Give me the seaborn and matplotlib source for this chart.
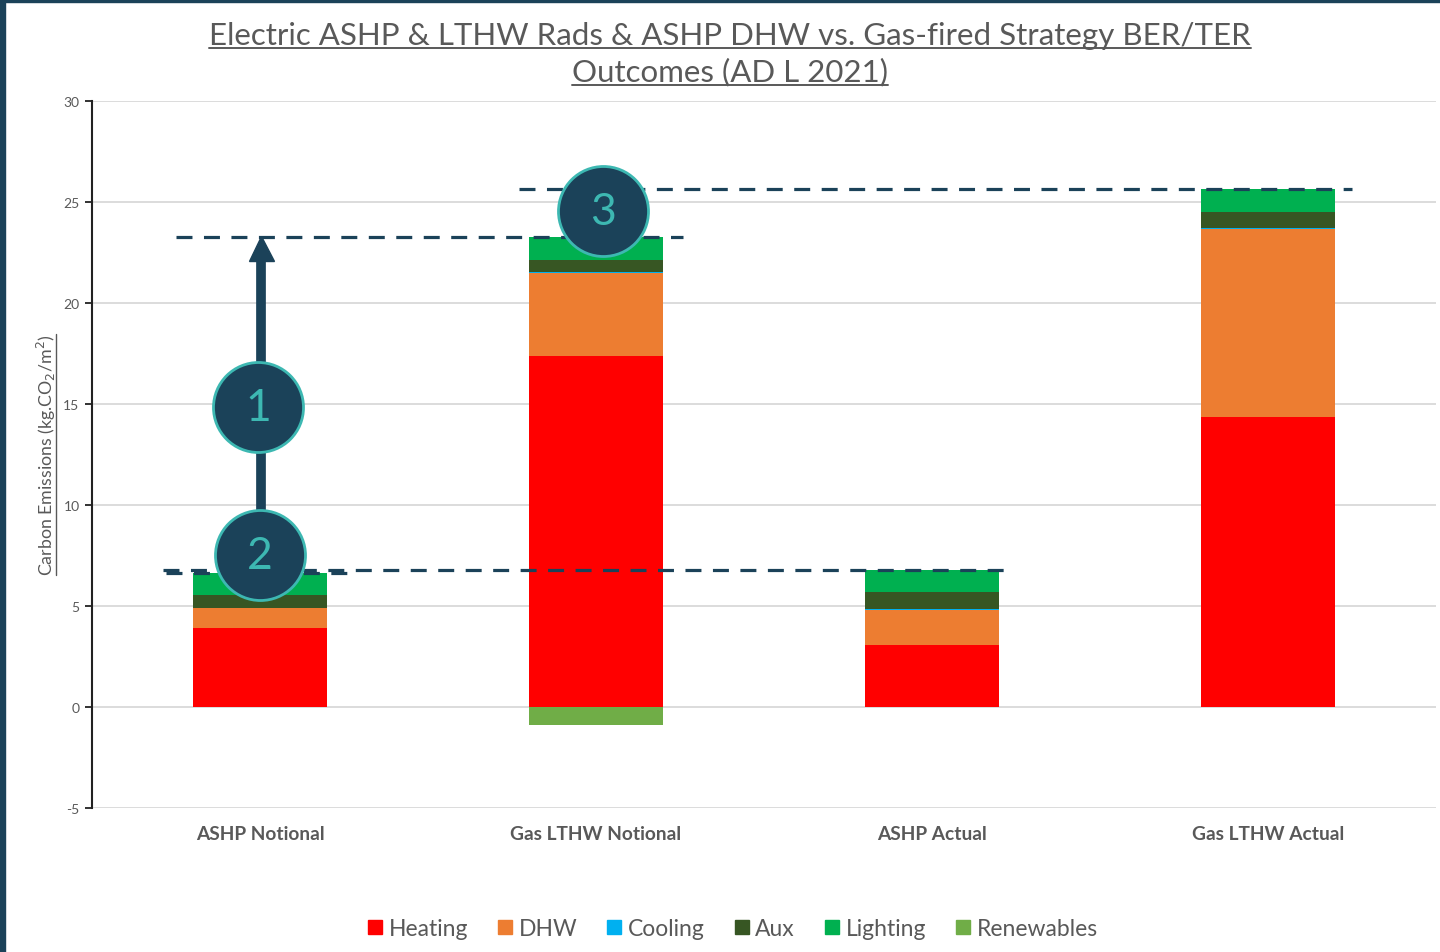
"""
Stacked BER/TER bars: ASHP vs gas-fired strategy (AD L 2021).
"""
import numpy as np
import pandas as pd
import matplotlib.pyplot as plt
import seaborn as sns
from matplotlib.lines import Line2D
from matplotlib.patches import Rectangle

# ------------------------------------------------------------
# data (kgCO2/m2)
# ------------------------------------------------------------
categories = ["ASHP Notional", "Gas LTHW Notional", "ASHP Actual", "Gas LTHW Actual"]
heating = [3.92, 17.38, 3.07, 14.36]
dhw = [0.98, 4.10, 1.75, 9.28]
cooling = [0.0, 0.04, 0.05, 0.08]
aux = [0.64, 0.62, 0.80, 0.80]
lighting = [1.08, 1.14, 1.12, 1.10]
renewables = [0.0, -0.88, 0.0, 0.0]

components = ["Heating", "DHW", "Cooling", "Aux", "Lighting"]
legend_names = components + ["Renewables"]
colors = {
    "Heating": "#FF0000",
    "DHW": "#ED7D31",
    "Cooling": "#00B0F0",
    "Aux": "#375623",
    "Lighting": "#00B050",
    "Renewables": "#70AD47",
}
y_ticks = [-5, 0, 5, 10, 15, 20, 25, 30]

NAVY = "#1B4259"
TEAL = "#3DB8B2"
GREY = "#595959"

df = pd.DataFrame({
    "category": categories,
    "Heating": heating,
    "DHW": dhw,
    "Cooling": cooling,
    "Aux": aux,
    "Lighting": lighting,
    "Renewables": renewables,
})
totals = df[components].sum(axis=1).to_numpy()

# ------------------------------------------------------------
# figure
# ------------------------------------------------------------
sns.set_style("white")
plt.rcParams["font.family"] = ["Lato", "DejaVu Sans"]
plt.rcParams["axes.unicode_minus"] = False

fig = plt.figure(figsize=(14.4, 9.53), dpi=100)
ax = fig.add_axes([0.0639, 0.1511, 0.9331, 0.7419])

bottom = np.zeros(len(df))
for comp in components:
    sns.barplot(data=df, x="category", y=comp, bottom=bottom, color=colors[comp],
                width=0.4, saturation=1, errorbar=None, linewidth=0, ax=ax, zorder=3)
    bottom = bottom + df[comp].to_numpy()
sns.barplot(data=df, x="category", y="Renewables", color=colors["Renewables"],
            width=0.4, saturation=1, errorbar=None, linewidth=0, ax=ax, zorder=3)

ax.set_xlim(-0.5, len(categories) - 0.5)
ax.set_ylim(-5, 30)
ax.set_yticks(y_ticks)
ax.yaxis.grid(True, color="#D9D9D9", linewidth=1.3, zorder=0)
ax.set_axisbelow(True)
for side in ["top", "right", "bottom"]:
    ax.spines[side].set_visible(False)
ax.spines["left"].set_color("#222222")
ax.spines["left"].set_linewidth(1.5)
ax.tick_params(axis="y", length=5, width=1.3, color="#222222", labelsize=10,
               labelcolor=GREY, pad=4, left=True)
ax.tick_params(axis="x", length=0, pad=12)
for lbl in ax.get_xticklabels():
    lbl.set_fontweight("bold")
    lbl.set_fontsize(13.8)
    lbl.set_color(GREY)
ax.set_xlabel("")
ax.set_ylabel(r"Carbon Emissions (kg.CO$_2$/m$^2$)", fontsize=12.8, color=GREY, labelpad=4)

# ------------------------------------------------------------
# annotations: reference levels, arrow, numbered markers
# ------------------------------------------------------------
dash = (0, (5, 3.6))
lvl_kw = dict(color=NAVY, linewidth=2.3, linestyle=dash, zorder=5)
ax.plot([-0.25, 1.26], [totals[1]] * 2, **lvl_kw)
ax.plot([-0.29, 2.24], [totals[2]] * 2, **lvl_kw)
ax.plot([-0.28, 0.27], [totals[0]] * 2, **lvl_kw)
ax.plot([0.77, 3.25], [totals[3]] * 2, **lvl_kw)

arrow_x = 0.003
ax.plot([arrow_x, arrow_x], [8.5, totals[1] - 1.0], color=NAVY, linewidth=7,
        solid_capstyle="butt", zorder=6)
ax.plot([arrow_x], [totals[1] - 0.55], marker="^", markersize=18, color=NAVY, zorder=6)

markers = [("1", -0.006, 14.85), ("2", 0.0, 7.52), ("3", 1.02, 24.55)]
for num, mx, my in markers:
    ax.scatter([mx], [my], s=4200, color=NAVY, edgecolors=TEAL, linewidths=2, zorder=8)
    ax.text(mx, my, num, ha="center", va="center", fontsize=32, color=TEAL, zorder=9)

# ------------------------------------------------------------
# legend
# ------------------------------------------------------------
handles = [Line2D([], [], marker="s", linestyle="", markersize=10, color=colors[n])
           for n in legend_names]
fig.legend(handles, legend_names, loc="center", bbox_to_anchor=(0.509, 0.025),
           ncol=len(legend_names), frameon=False, fontsize=16.5, labelcolor=GREY,
           handlelength=0.6, handletextpad=0.3, columnspacing=1.3)

# ------------------------------------------------------------
# title (underlined, two lines) + frame
# ------------------------------------------------------------
t1 = fig.text(0.507, 0.962, "Electric ASHP & LTHW Rads & ASHP DHW vs. Gas-fired Strategy BER/TER",
              ha="center", va="center", fontsize=22.5, color=GREY)
t2 = fig.text(0.507, 0.924, "Outcomes (AD L 2021)", ha="center", va="center",
              fontsize=22.5, color=GREY)

fig.canvas.draw()
renderer = fig.canvas.get_renderer()
W, H = fig.bbox.width, fig.bbox.height
for t in (t1, t2):
    bb = t.get_window_extent(renderer)
    y = (bb.y0 + 1) / H
    fig.add_artist(Line2D([bb.x0 / W, bb.x1 / W], [y, y], color=GREY, linewidth=1.4))
bb = ax.yaxis.label.get_window_extent(renderer)
x = (bb.x1 - 2) / W
fig.add_artist(Line2D([x, x], [bb.y0 / H, bb.y1 / H], color=GREY, linewidth=1.0))

fig.add_artist(Rectangle((0, 0), 5 / W, 1, transform=fig.transFigure, color=NAVY, zorder=10))
fig.add_artist(Rectangle((0, 1 - 3 / H), 1, 3 / H, transform=fig.transFigure, color=NAVY, zorder=10))

fig.savefig("out.png", dpi=100)
plt.close(fig)
